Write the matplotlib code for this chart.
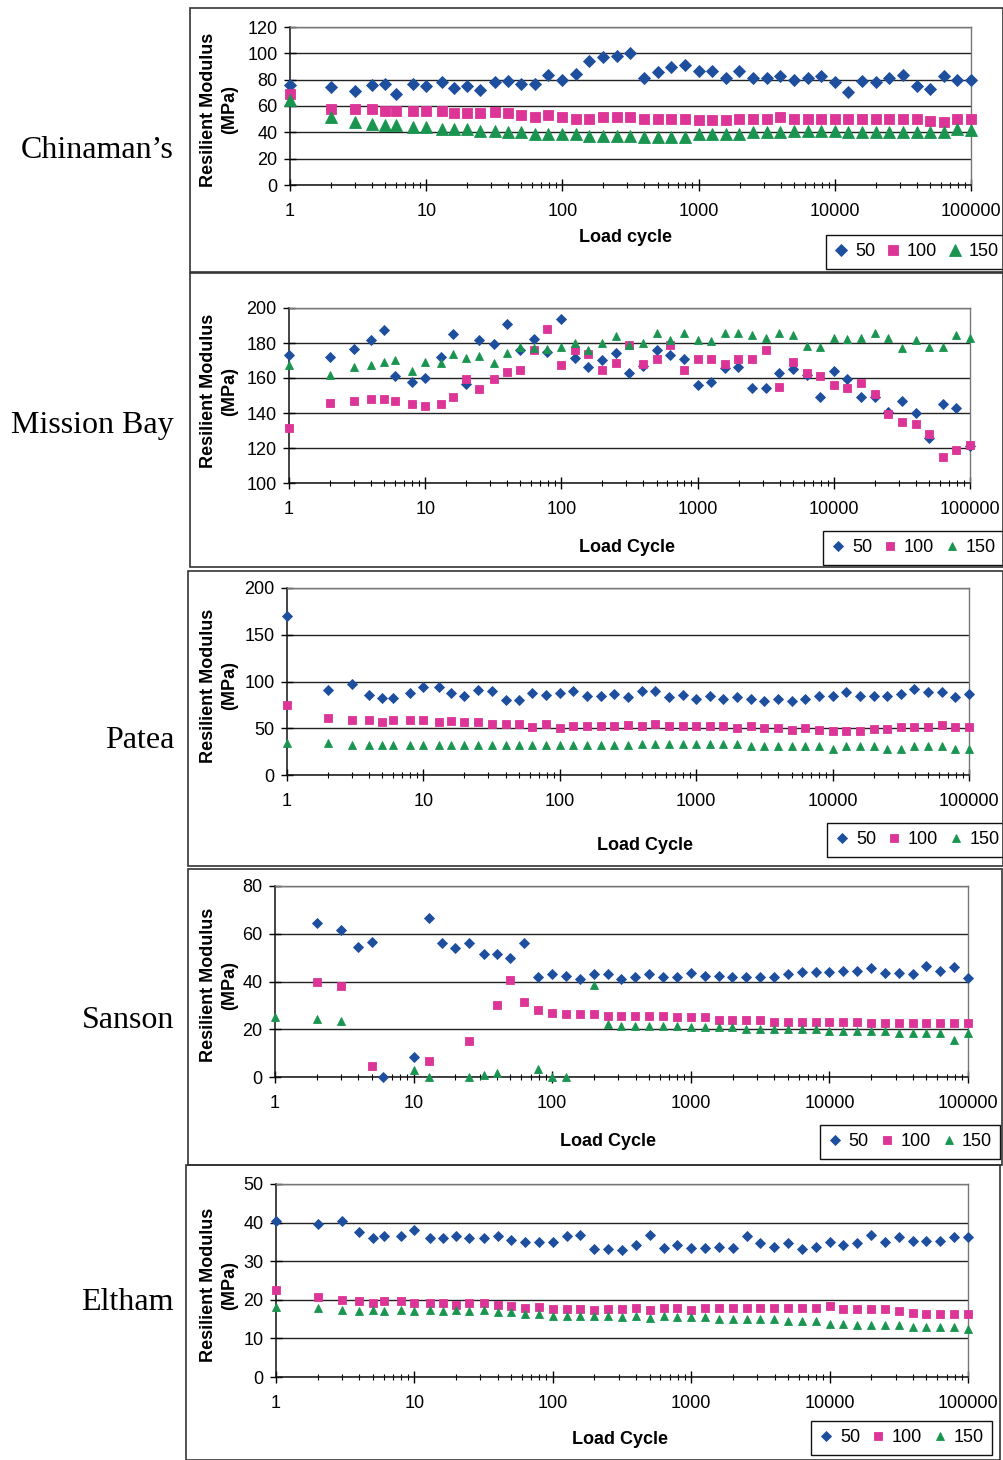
import numpy as np
import matplotlib
matplotlib.use("Agg")
import matplotlib.pyplot as plt
from matplotlib.patches import Rectangle
from matplotlib.ticker import FixedLocator, NullFormatter, FuncFormatter

nan = np.nan

# load cycles at which the modulus was recorded
cycles = [1, 2, 3, 4, 5, 6, 8,
          10, 13, 16, 20, 25, 32, 40, 50, 63, 79,
          100, 126, 158, 200, 251, 316, 398, 501, 631, 794,
          1000, 1259, 1585, 1995, 2512, 3162, 3981, 5012, 6310, 7943,
          10000, 12589, 15849, 19953, 25119, 31623, 39811, 50119, 63096, 79433,
          100000]

series_names = ["50", "100", "150"]

# Chinaman's
ch50 = [76, 74.5, 71.5, 76, 77, 69, 77,
        75.5, 78, 74, 75.5, 72.5, 78, 79, 76.5, 77, 83.5,
        80, 84.5, 94.5, 97.5, 98, 100, 81.5, 85.5, 89.5, 91.5,
        86.5, 86.5, 81, 86.5, 81, 81, 83, 80, 81, 82.5,
        78.5, 70.5, 79, 78, 81, 83.5, 75.5, 73, 83, 80,
        79.5]
ch100 = [69, 57.5, 57.5, 57.5, 56, 56, 56,
         56, 56, 55, 55, 55, 55.5, 54.5, 53.5, 52, 53.5,
         52, 50.5, 50.5, 52, 52, 52, 50.5, 50, 50, 50,
         49, 49, 49, 50, 50, 50, 51.5, 50, 50, 50,
         50, 50, 50, 50, 50, 50, 50, 48.5, 48, 50,
         50]
ch150 = [64.5, 52, 48, 46.5, 45.5, 45.5, 44,
         44, 42.5, 42.5, 42.5, 41, 41, 40, 40, 38.5, 38.5,
         38.5, 38.5, 37.5, 37.5, 37.5, 37, 36.6, 36.6, 36.6, 36.6,
         38.4, 38.4, 38.4, 38.4, 39.9, 39.9, 39.9, 40.9, 40.9, 40.9,
         40.9, 40.4, 40.4, 40.4, 40.4, 40.4, 40.4, 40.4, 39.9, 42.2,
         41.7]

# Mission Bay
mb50 = [173, 172, 176.5, 181.5, 187.5, 161, 157.5,
        160, 172, 185, 156.5, 181.5, 179.5, 191, 176, 182.5, 175,
        194, 171.5, 166.5, 170.5, 174.5, 163, 167, 176, 173, 171,
        156, 158, 165.5, 166.5, 154.5, 154.5, 163, 165, 161.5, 149,
        164, 159.5, 149, 149, 140.5, 147, 140, 126, 145, 143,
        121]
mb100 = [131.5, 146, 147, 148, 148, 147, 145,
         144, 145, 149, 159.5, 153.5, 159.5, 163.5, 164.5, 176, 188,
         167.5, 176, 174, 164.5, 168.5, 179, 168, 171, 179, 164.5,
         171, 171, 168, 171, 171, 176, 155, 169, 163, 161,
         156, 154.5, 157, 151, 139.5, 135, 133.5, 128, 115, 119,
         122]
mb150 = [167.5, 161.5, 166.5, 167.5, 169, 170.5, 164,
         169, 168.5, 173.5, 171.5, 172.5, 168.5, 174.5, 177.5, 177, 176.5,
         178, 180, 176, 180, 184, 179, 180, 185.5, 182, 185.5,
         182, 181, 185.5, 185.5, 184.5, 183, 185.5, 184.5, 178.5, 177.5,
         183, 182.5, 183, 186, 183, 177, 181.5, 177.5, 177.5, 184.5,
         183]

# Patea
pt50 = [170, 90.5, 97.5, 86, 82, 82, 88,
        94, 94, 87.5, 84, 91, 90, 80.5, 80.5, 87.5, 86,
        87.5, 89.5, 85, 85, 87, 83, 89.5, 89.5, 83.5, 86,
        81.5, 84, 81.5, 83.5, 81.5, 79.5, 81.5, 79.5, 81.5, 85,
        85, 89, 85, 85, 85, 87, 92, 88.5, 88.5, 83,
        86.5]
pt100 = [74.5, 60.5, 59, 59, 57, 59, 59,
         59, 57, 58, 56.5, 56.5, 54.5, 54.5, 54.5, 51, 54.5,
         50.5, 52, 52, 52, 52, 53, 52.5, 54.5, 52.5, 52.5,
         52.5, 52.5, 52.5, 50, 52.5, 50, 50, 48.5, 50, 48.5,
         47.5, 47.5, 47.5, 49.5, 49.5, 51, 51, 51, 53, 51,
         51]
pt150 = [34.5, 34.5, 32.5, 32.5, 32.5, 32.5, 32.5,
         32.5, 32.5, 32.5, 32.5, 32.5, 32.5, 32.5, 32.5, 32.5, 32.5,
         32.5, 32.5, 32.5, 32.5, 32.5, 32.5, 33, 33, 33, 33,
         33, 33, 33, 33, 30.5, 30.5, 30.5, 30.5, 30.5, 30.5,
         28, 30.5, 30.5, 30.5, 28, 28, 30.5, 30.5, 30.5, 28,
         28]

# Sanson (gaps where no point was plotted)
sn50 = [nan, 64.5, 61.5, 54.5, 56.5, 0, nan,
        8.5, 66.5, 56, 54, 56, 51.5, 51.5, 50, 56, 42,
        43, 42.5, 41, 43, 43, 41, 42, 43, 42, 42,
        43.5, 42.5, 42.5, 42, 42, 42, 42, 43, 44, 44,
        44, 44.5, 44.5, 45.5, 43.5, 43.5, 43, 46.5, 44.5, 46,
        41.5]
sn100 = [nan, 40, 38, nan, 4.5, nan, nan,
         nan, 6.5, nan, nan, 15, nan, 30, 40.5, 31.5, 28,
         27, 26.5, 26.5, 26.5, 25.5, 25.5, 25.5, 25.5, 25.5, 25,
         25, 25, 24, 24, 24, 24, 23, 23, 23, 23,
         23, 23, 23, 22.5, 22.5, 22.5, 22.5, 22.5, 22.5, 22.5,
         22.5]
sn150 = [25, 24.5, 23.5, nan, nan, nan, nan,
         2.8, 0, nan, nan, 0, 1, 1.8, nan, nan, 3.2,
         0, 0, nan, 38.5, 22, 21.5, 21.5, 21.5, 21.5, 21.5,
         21, 21, 21, 21, 20, 20, 20, 20, 20, 20,
         19.3, 19.3, 19.3, 19.3, 19.3, 18.6, 18.6, 18.6, 18.6, 15.4,
         18.6]

# Eltham
el50 = [40.5, 39.7, 40.5, 37.5, 36, 36.5, 36.5,
        38, 36, 36, 36.5, 36, 36, 36.5, 35.5, 35, 35,
        35, 36.4, 36.9, 33.2, 33.2, 33, 34.3, 36.9, 33.4, 34.3,
        33.4, 33.4, 33.8, 33.4, 36.4, 34.7, 33.6, 34.7, 33.2, 33.6,
        35.1, 34.1, 34.7, 36.8, 34.9, 36.2, 35.3, 35.3, 35.3, 36.2,
        36.2]
el100 = [22.5, 20.6, 20, 19.8, 19.2, 19.8, 19.8,
         19.2, 19.2, 19.2, 18.7, 19.2, 19.2, 18.7, 18.3, 17.9, 18.1,
         17.7, 17.7, 17.7, 17.3, 17.7, 17.5, 17.8, 17.4, 17.8, 17.8,
         17.4, 17.8, 17.8, 17.8, 17.8, 17.8, 17.8, 17.8, 17.8, 17.8,
         18.3, 17.7, 17.7, 17.7, 17.7, 17.1, 16.6, 16.2, 16.2, 16.2,
         16.2]
el150 = [18.1, 17.9, 17.4, 17, 17.4, 17, 17.4,
         17, 17.4, 17, 17.4, 17, 17.4, 16.8, 16.8, 16.3, 16.3,
         15.9, 15.9, 15.9, 15.9, 15.9, 15.6, 15.9, 15.3, 15.9, 15.5,
         15.5, 15.5, 14.9, 14.9, 14.9, 14.9, 14.9, 14.4, 14.4, 14.4,
         13.8, 13.8, 13.4, 13.4, 13.4, 13.4, 12.9, 12.9, 12.9, 12.9,
         12.5]

W, H = 1004, 1460
plt.rcParams['font.family'] = ['Liberation Sans', 'DejaVu Sans']

colors = ["#1d4f9e", "#dc3597", "#1a9550"]
markers = ["D", "s", "^"]

# pixel layout of each panel: plot area, outer box, labels, legend box
panels = [
    dict(site="Chinaman\u2019s", data=(ch50, ch100, ch150), yticks=[0, 20, 40, 60, 80, 100, 120],
         plot=(290, 27, 971, 185), box=(190, 8, 1003, 272), site_y=150, ylab_y=110,
         xlab="Load cycle", xlab_xy=(626, 238), leg=(832, 236, 1001, 268), ms=(6.3, 7.6, 8.6)),
    dict(site="Mission Bay", data=(mb50, mb100, mb150), yticks=[100, 120, 140, 160, 180, 200],
         plot=(289, 308, 970, 483), box=(190, 273, 1003, 567), site_y=425, ylab_y=391,
         xlab="Load Cycle", xlab_xy=(627, 548), leg=(829, 531, 998, 565), ms=(4.7, 5.5, 6.4)),
    dict(site="Patea", data=(pt50, pt100, pt150), yticks=[0, 50, 100, 150, 200],
         plot=(287, 588, 969, 775), box=(188, 571, 1003, 866), site_y=740, ylab_y=686,
         xlab="Load Cycle", xlab_xy=(645, 845), leg=(835, 823, 1000, 857), ms=(4.7, 5.5, 6.4)),
    dict(site="Sanson", data=(sn50, sn100, sn150), yticks=[0, 20, 40, 60, 80],
         plot=(275, 886, 968, 1077), box=(188, 869, 1002, 1165), site_y=1020, ylab_y=985,
         xlab="Load Cycle", xlab_xy=(608, 1141), leg=(820, 1124, 1000, 1160), ms=(4.7, 5.5, 6.4)),
    dict(site="Eltham", data=(el50, el100, el150), yticks=[0, 10, 20, 30, 40, 50],
         plot=(276, 1184, 968, 1377), box=(186, 1165, 1000, 1460), site_y=1302, ylab_y=1285,
         xlab="Load Cycle", xlab_xy=(620, 1440), leg=(816, 1420, 987, 1456), ms=(4.7, 5.5, 6.4)),
]

fig = plt.figure(figsize=(W / 100, H / 100), dpi=100)

for p in panels:
    x0, y0, x1, y1 = p["plot"]
    ax = fig.add_axes([x0 / W, 1 - y1 / H, (x1 - x0) / W, (y1 - y0) / H])

    handles = []
    for vals, c, m, ms, name in zip(p["data"], colors, markers, p["ms"], series_names):
        h, = ax.plot(cycles, vals, linestyle="none", marker=m, color=c, markersize=ms,
                     markeredgewidth=0.6, markeredgecolor=c, clip_on=False, zorder=3, label=name)
        handles.append(h)

    ax.set_xscale("log")
    ax.set_xlim(1, 100000)
    ax.set_ylim(p["yticks"][0], p["yticks"][-1])
    ax.xaxis.set_major_locator(FixedLocator([1, 10, 100, 1000, 10000, 100000]))
    ax.xaxis.set_major_formatter(FuncFormatter(lambda v, pos: "%d" % round(v)))
    minors = [k * 10 ** d for d in range(5) for k in range(2, 10)]
    ax.xaxis.set_minor_locator(FixedLocator(minors))
    ax.xaxis.set_minor_formatter(NullFormatter())
    ax.set_yticks(p["yticks"])

    for yv in p["yticks"]:
        ax.axhline(yv, color="#222222", lw=1.0, zorder=1)

    ax.tick_params(axis="x", which="major", direction="inout", length=8, width=1,
                   labelsize=13, pad=9)
    ax.tick_params(axis="x", which="minor", direction="inout", length=5, width=0.8)
    ax.tick_params(axis="y", direction="inout", length=8, width=1, labelsize=13, pad=5)
    for s in ["left", "bottom"]:
        ax.spines[s].set_color("#111111")
        ax.spines[s].set_linewidth(1.1)
    for s in ["top", "right"]:
        ax.spines[s].set_color("#777777")
        ax.spines[s].set_linewidth(1.0)

    # outer chart box
    bx0, by0, bx1, by1 = p["box"]
    fig.add_artist(Rectangle((bx0 / W, 1 - by1 / H), (bx1 - bx0) / W, (by1 - by0) / H,
                             transform=fig.transFigure, fill=False, edgecolor="#333333", lw=1.2))

    fig.text(174 / W, 1 - p["site_y"] / H, p["site"], ha="right", va="center",
             fontsize=23, family=["Liberation Serif", "DejaVu Serif"])
    fig.text(219 / W, 1 - p["ylab_y"] / H, "Resilient Modulus\n(MPa)", rotation=90,
             ha="center", va="center", fontsize=13, fontweight="bold", linespacing=1.3,
             multialignment="center")
    fig.text(p["xlab_xy"][0] / W, 1 - p["xlab_xy"][1] / H, p["xlab"], ha="center",
             va="center", fontsize=13, fontweight="bold")

    lx0, ly0, lx1, ly1 = p["leg"]
    leg = ax.legend(handles=handles, ncol=3, loc="center",
                    bbox_to_anchor=(lx0 / W, 1 - ly1 / H, (lx1 - lx0) / W, (ly1 - ly0) / H),
                    bbox_transform=fig.transFigure, fontsize=13, frameon=True, fancybox=False,
                    framealpha=1, edgecolor="#111111", handlelength=0.8, handletextpad=0.35,
                    columnspacing=0.6, borderpad=0.45, borderaxespad=0)
    leg.get_frame().set_linewidth(1.0)

fig.savefig("out.png", dpi=100)
